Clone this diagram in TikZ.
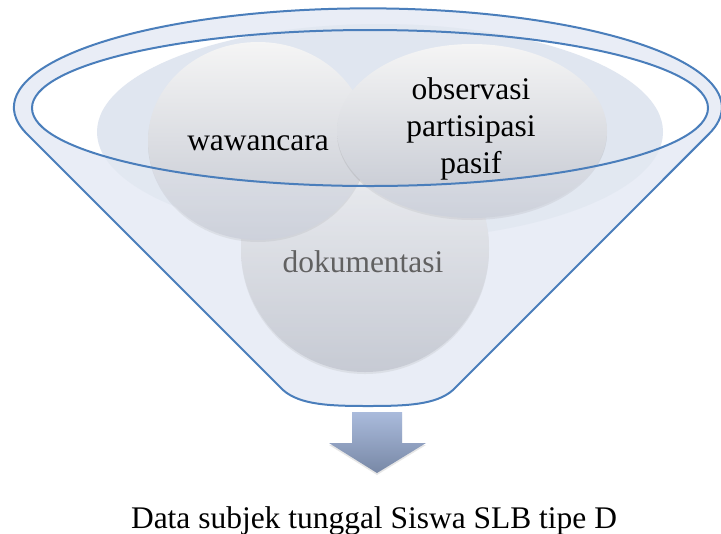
\documentclass[tikz,border=0pt]{standalone}
\usepackage{fontspec}
\setmainfont{Liberation Serif}
\usetikzlibrary{shadows}
\tikzset{>=latex}

\definecolor{rimblue}{RGB}{74,126,187}
\definecolor{funnelfill}{RGB}{233,237,246}
\definecolor{mouthfill}{RGB}{224,230,240}
\definecolor{ballgray}{RGB}{194,198,208}
\definecolor{arrowtop}{RGB}{170,187,220}
\definecolor{arrowbottom}{RGB}{120,136,166}

\tikzset{
    rim/.style={draw=rimblue, line width=1.5pt},
    ball/.style={top color=white!96!black, bottom color=ballgray,
        drop shadow={opacity=0.18, shadow xshift=0pt, shadow yshift=-1.5pt}},
    balltext/.style={font=\fontsize{23.6pt}{27.75pt}\selectfont, align=center, inner sep=0pt}
}

\begin{document}
\begin{tikzpicture}[x=0.75pt, y=-0.75pt]

    \useasboundingbox (0,0) rectangle (721,533);

    \fill[funnelfill] (27,134) arc[start angle=164.4, end angle=375.6, x radius=354, y radius=99]
        -- (453,390) .. controls (436,405) and (406,406) .. (368,406)
        .. controls (330,406) and (300,405) .. (283,390) -- cycle;

    \fill[white] (370,108) ellipse [x radius=338, y radius=78];
    \fill[mouthfill] (380,132) ellipse [x radius=283, y radius=108];

    \shade[ball, bottom color=ballgray!95!black] (365,248) circle [radius=124];
    \shade[ball] (258,141) ellipse [x radius=110, y radius=99];
    \shade[ball] (472,131) ellipse [x radius=135, y radius=87];

    \fill[funnelfill, opacity=0.3, even odd rule] (27,134) arc[start angle=164.4, end angle=375.6, x radius=354, y radius=99]
        -- (453,390) .. controls (436,405) and (406,406) .. (368,406)
        .. controls (330,406) and (300,405) .. (283,390) -- cycle
        (370,108) ellipse [x radius=338, y radius=78];

    \draw[rim] (27,134) arc[start angle=164.4, end angle=375.6, x radius=354, y radius=99]
        -- (453,390) .. controls (436,405) and (406,406) .. (368,406)
        .. controls (330,406) and (300,405) .. (283,390) -- cycle;
    \draw[rim] (370,108) ellipse [x radius=338, y radius=78];

    \node[balltext, anchor=base] (wawancara) at (258,150) {wawancara};
    \node[balltext] (observasi) at (471,129) {observasi\\partisipasi\\pasif};
    \node[balltext, anchor=base, text=black!62] (dokumentasi) at (363,272) {dokumentasi};

    \shade[top color=arrowtop, bottom color=arrowbottom,
        drop shadow={opacity=0.2, shadow xshift=0pt, shadow yshift=-1.5pt}]
        (352,412) -- (402,412) -- (402,443) -- (426,443) -- (377,473) -- (329,443) -- (352,443) -- cycle;

    \node[balltext, anchor=base] (hasil) at (374,528) {Data subjek tunggal Siswa SLB tipe D};

\end{tikzpicture}
\end{document}
